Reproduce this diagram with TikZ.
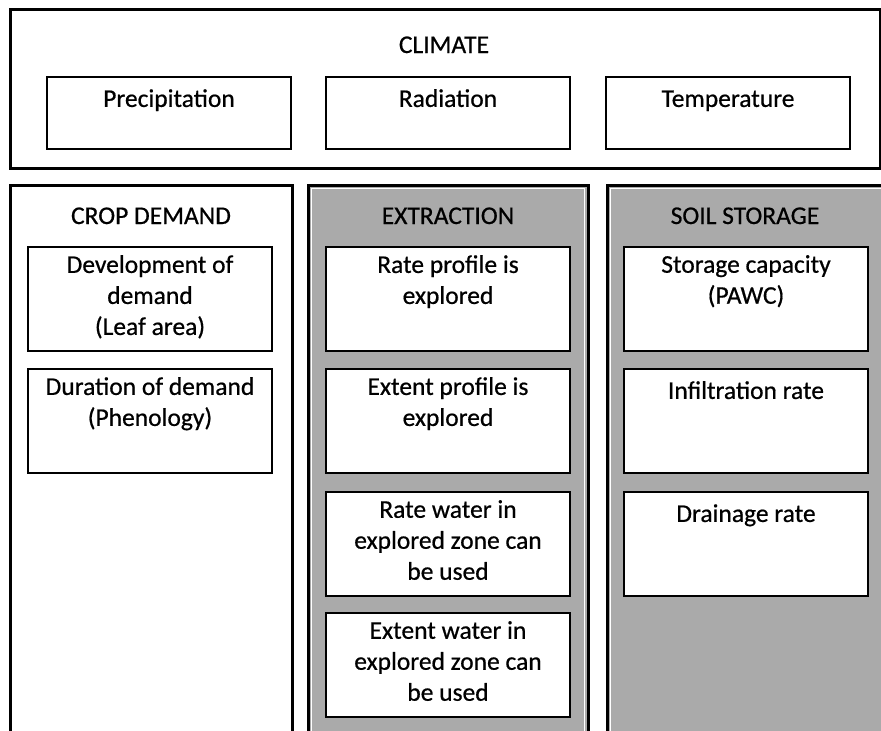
\documentclass[tikz,border=0pt]{standalone}
\usepackage{fontspec}
\setmainfont{Carlito}[FakeBold=0.6]
\usetikzlibrary{positioning}

\definecolor{panelgray}{RGB}{170,170,170}

\tikzset{
	panel/.style={line width=3pt, draw=black},
	glow/.style={line width=1pt, draw=white},
	itembox/.style={rectangle, draw=black, fill=white, line width=2.5pt,
		inner sep=0pt, outer sep=0pt, anchor=north west},
	itemtext/.style={anchor=north, align=center, inner sep=0pt,
		font=\fontsize{25.5}{31}\selectfont, execute at begin node=\strut},
	header/.style={anchor=base, inner sep=0pt, font=\fontsize{25.5}{31}\selectfont}
}

\begin{document}
\begin{tikzpicture}[x=1pt, y=-1pt]
	\useasboundingbox (0,0) rectangle (881,731);
	\clip (0,0) rectangle (881,731);

	\pgfmathsetmacro{\bw}{244}
	\pgfmathsetmacro{\bh}{104}

	% Climate
	\draw[panel] (10,9) rectangle (880,168);
	\node[header] (climate) at (444,53) {CLIMATE};
	\foreach \x/\name/\txt in {47/prec/Precipitation, 326/rad/Radiation, 606/temp/Temperature}
	{
	\node[itembox, minimum width=\bw, minimum height=72] (\name) at (\x,77) {};
	\node[itemtext, below=8pt of \name.north] (\name-t) {\txt};
	}

	% Panels
	\draw[panel] (10,185) rectangle (292,760);
	\filldraw[panel, fill=panelgray] (308,185) rectangle (588,760);
	\filldraw[panel, fill=panelgray] (607,185) rectangle (900,760);
	\draw[glow] (311.5,188.5) rectangle (584.5,760);
	\draw[glow] (610.5,188.5) rectangle (900,760);

	\node[header] (crop) at (151,224) {CROP DEMAND};
	\node[header] (extr) at (448,224) {EXTRACTION};
	\node[header] (soil) at (745,224) {SOIL STORAGE};

	% Crop demand
	\foreach \y/\name/\txt in {247/dev/Development of\\demand\\(Leaf area),
		369/dur/Duration of demand\\(Phenology)}
	{
	\node[itembox, minimum width=\bw, minimum height=\bh] (\name) at (28,\y) {};
	\node[itemtext, below=8pt of \name.north] (\name-t) {\txt};
	}

	% Extraction
	\foreach \y/\name/\txt in {247/rp/Rate profile is\\explored,
		369/ep/Extent profile is\\explored,
		492/rw/Rate water in\\explored zone can\\be used,
		613/ew/Extent water in\\explored zone can\\be used}
	{
	\node[itembox, minimum width=\bw, minimum height=\bh] (\name) at (326,\y) {};
	\node[itemtext, below=8pt of \name.north] (\name-t) {\txt};
	}

	% Soil storage
	\foreach \y/\name/\txt in {247/cap/Storage capacity\\(PAWC),
		369/inf/Infiltration rate,
		492/drn/Drainage rate}
	{
	\node[itembox, minimum width=\bw, minimum height=\bh] (\name) at (624,\y) {};
	\node[itemtext, below=8pt of \name.north] (\name-t) {\txt};
	}

\end{tikzpicture}
\end{document}
